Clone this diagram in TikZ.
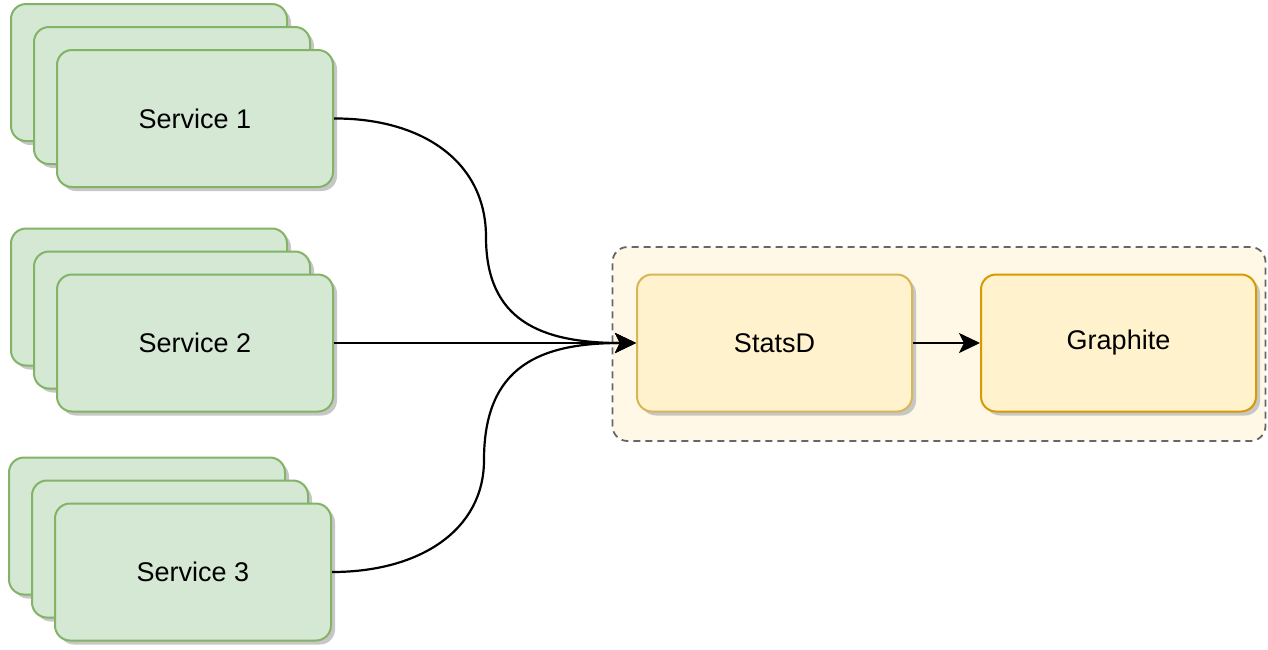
\documentclass[tikz,border=0pt]{standalone}
\usepackage{fontspec}
\setmainfont{Liberation Sans}
\usepackage{tikz}
\usetikzlibrary{arrows.meta}
\usetikzlibrary{shadows}

\definecolor{svcfill}{HTML}{D5E8D4}
\definecolor{svcline}{HTML}{82B366}
\definecolor{boxfill}{HTML}{FFF2CC}
\definecolor{statsline}{HTML}{D6B656}
\definecolor{graphline}{HTML}{D79B00}
\definecolor{groupfill}{HTML}{FFF8E6}
\definecolor{groupline}{HTML}{666666}

\tikzset{
  card/.style={rectangle,rounded corners=15pt,line width=2pt,
    minimum width=276pt,minimum height=137pt,inner sep=0pt,
    font=\fontsize{27}{32}\selectfont,
    drop shadow={shadow xshift=4pt,shadow yshift=-4pt,fill=black!22,opacity=1}},
  svc/.style={card,draw=svcline,fill=svcfill},
  flow/.style={line width=2.2pt,-{Stealth[length=21pt,width=20pt,inset=5pt]}}
}

\begin{document}
\begin{tikzpicture}[x=1pt,y=-1pt]
      \useasboundingbox (0,0) rectangle (1268,649);
      % group round StatsD and Graphite
      \node[rectangle,rounded corners=15pt,draw=groupline,fill=groupfill,line width=1.8pt,
        dash pattern=on 7pt off 5pt,minimum width=653pt,minimum height=194pt,inner sep=0pt,
        anchor=center] (group) at (939,344) {};
      \node[svc] (s1a) at (149,72.5) {};
      \node[svc] (s1b) at (172,95.5) {};
      \node[svc] (s1) at (195,118.5) {Service 1};
      \node[svc] (s2a) at (149,297) {};
      \node[svc] (s2b) at (172,320) {};
      \node[svc] (s2) at (195,343) {Service 2};
      \node[svc] (s3a) at (147,526) {};
      \node[svc] (s3b) at (170,549) {};
      \node[svc] (s3) at (193,572) {Service 3};
      \node[card,draw=statsline,fill=boxfill,minimum width=275pt] (statsd) at (774.5,343) {StatsD};
      \node[card,draw=graphline,fill=boxfill,minimum width=275pt] (graphite) at (1118.5,343) {Graphite};
      \coordinate (bend1) at (486,237);
      \coordinate (bend3) at (484,460);
      \draw[line width=2.2pt] (s1.east) .. controls (420,118) and (486,160) .. (bend1);
      \draw[flow] (bend1) .. controls (486,320) and (540,343) .. (statsd.west);
      \draw[flow] (s2.east) -- (statsd.west);
      \draw[line width=2.2pt] (s3.east) .. controls (420,572) and (484,530) .. (bend3);
      \draw[flow] (bend3) .. controls (484,366) and (540,343) .. (statsd.west);
      \draw[flow] (statsd.east) -- (graphite.west);
    \end{tikzpicture}
\end{document}
